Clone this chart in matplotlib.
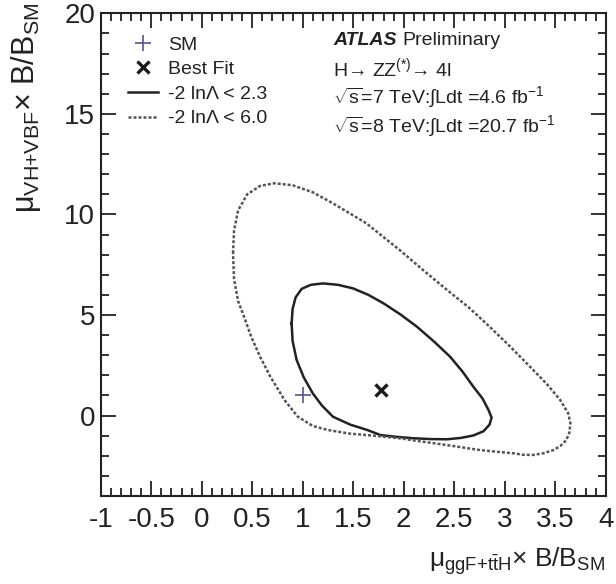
import matplotlib
matplotlib.use('Agg')
import matplotlib.pyplot as plt
from matplotlib.ticker import MultipleLocator, FormatStrFormatter

plt.rcParams['font.family'] = ['Liberation Sans', 'DejaVu Sans']
plt.rcParams['mathtext.fontset'] = 'custom'
plt.rcParams['mathtext.rm'] = 'Liberation Sans'
plt.rcParams['mathtext.it'] = 'Liberation Sans:italic'
plt.rcParams['mathtext.bf'] = 'Liberation Sans:bold'
plt.rcParams['axes.unicode_minus'] = False

# ---- data ----
sm_x = [1.0]
sm_y = [1.0]
best_x = [1.78]
best_y = [1.27]

c23_x = [0.89, 0.90, 0.93, 0.99, 1.08, 1.20, 1.35, 1.50, 1.65, 1.80, 1.97, 2.13, 2.30, 2.46,
         2.58, 2.69, 2.78, 2.84, 2.87, 2.85, 2.79, 2.69, 2.57, 2.43, 2.27, 2.10, 1.93, 1.77,
         1.64, 1.47, 1.30, 1.19, 1.10, 1.01, 0.94, 0.90, 0.89]
c23_y = [4.58, 5.30, 5.88, 6.30, 6.50, 6.57, 6.50, 6.32, 6.00, 5.58, 5.02, 4.42, 3.68, 2.92,
         2.20, 1.43, 0.85, 0.27, -0.10, -0.45, -0.78, -0.99, -1.11, -1.18, -1.17, -1.13, -1.06,
         -0.97, -0.72, -0.45, -0.06, 0.50, 1.10, 1.90, 2.76, 3.70, 4.58]

c60_x = [0.31, 0.32, 0.36, 0.45, 0.58, 0.72, 0.90, 1.10, 1.30, 1.63, 1.96, 2.20, 2.43, 2.65,
         2.85, 3.05, 3.25, 3.42, 3.55, 3.63, 3.65, 3.64, 3.61, 3.55, 3.48, 3.38, 3.28, 3.18,
         3.09, 2.92, 2.76, 2.60, 2.43, 2.19, 1.96, 1.70, 1.47, 1.25, 1.10, 0.95, 0.82, 0.68,
         0.58, 0.49, 0.42, 0.36, 0.32, 0.31]
c60_y = [8.07, 9.20, 10.20, 11.00, 11.42, 11.55, 11.45, 11.10, 10.55, 9.56, 8.23, 7.20, 6.24,
         5.35, 4.42, 3.45, 2.43, 1.55, 0.77, 0.10, -0.39, -0.85, -1.22, -1.52, -1.72, -1.88,
         -1.96, -1.95, -1.88, -1.80, -1.72, -1.60, -1.47, -1.30, -1.13, -1.00, -0.90, -0.72,
         -0.52, -0.05, 0.77, 1.93, 2.90, 3.92, 4.90, 5.70, 6.80, 8.07]

legend_labels = ['SM', 'Best Fit', '-2 lnΛ < 2.3', '-2 lnΛ < 6.0']
x_range = (-1, 4)
y_range = (-4, 20)

fig = plt.figure(figsize=(6.16, 5.84), dpi=100)
ax = fig.add_axes([0.1635, 0.1507, 0.8198, 0.8265])

h_sm, = ax.plot(sm_x, sm_y, ls='none', marker='+', ms=12, mew=1.2, color='#55559a',
                label=legend_labels[0])
h_bf, = ax.plot(best_x, best_y, ls='none', marker='x', ms=8, mew=2.4, color='#1a1a1a',
                label=legend_labels[1])
h_23, = ax.plot(c23_x, c23_y, color='#222222', lw=1.8, label=legend_labels[2])
h_60, = ax.plot(c60_x, c60_y, color='#555555', lw=1.8, ls=(0, (1.2, 0.8)),
                label=legend_labels[3])

ax.set_xlim(*x_range)
ax.set_ylim(*y_range)
ax.xaxis.set_major_locator(MultipleLocator(0.5))
ax.xaxis.set_minor_locator(MultipleLocator(0.1))
ax.yaxis.set_major_locator(MultipleLocator(5))
ax.yaxis.set_minor_locator(MultipleLocator(1))
ax.xaxis.set_major_formatter(FormatStrFormatter('%g'))
ax.yaxis.set_major_formatter(FormatStrFormatter('%g'))
ax.tick_params(which='both', direction='in', top=True, right=True, width=1.3,
               color='#222222', labelsize=20, labelcolor='#222222')
ax.tick_params(axis='x', pad=8)
ax.tick_params(axis='y', pad=4)
ax.tick_params(which='major', length=10.8)
ax.tick_params(which='minor', length=5.6)
for s in ax.spines.values():
    s.set_linewidth(1.5)
    s.set_color('#222222')

leg = ax.legend(handles=[h_sm, h_bf, h_23, h_60], loc='upper left',
                bbox_to_anchor=(0.055, 0.953), frameon=False, fontsize=14,
                handlelength=1.5, handletextpad=0.55, labelspacing=0.36,
                borderpad=0, borderaxespad=0)
for t in leg.get_texts():
    t.set_color('#222222')

fs = 14
t_atlas = ax.text(0.46, 0.943, 'ATLAS', transform=ax.transAxes, fontsize=fs,
                  fontweight='bold', style='italic', va='center', ha='left', color='#222222')
fig.canvas.draw()
bb = t_atlas.get_window_extent().transformed(ax.transAxes.inverted())
ax.text(bb.x1 + 0.012, 0.943, 'Preliminary', transform=ax.transAxes, fontsize=fs,
        va='center', ha='left', color='#222222')
ax.text(0.46, 0.886, 'H→ ZZ$^{(*)}$→ 4l', transform=ax.transAxes, fontsize=fs,
        va='center', ha='left', color='#222222')
ax.text(0.46, 0.826, r'$\sqrt{\mathrm{s}}$=7 TeV:∫Ldt =4.6 fb$^{-1}$', transform=ax.transAxes,
        fontsize=fs, va='center', ha='left', color='#222222')
ax.text(0.46, 0.766, r'$\sqrt{\mathrm{s}}$=8 TeV:∫Ldt =20.7 fb$^{-1}$', transform=ax.transAxes,
        fontsize=fs, va='center', ha='left', color='#222222')

fig.text(0.982, 0.03, r'μ$_{\mathrm{ggF{+}t\bar{t}H}}$× B/B$_{\mathrm{SM}}$', fontsize=19,
         ha='right', va='baseline', color='#222222')
fig.text(0.014, 0.995, r'μ$_{\mathrm{VH{+}VBF}}$× B/B$_{\mathrm{SM}}$', fontsize=22,
         rotation=90, ha='left', va='top', color='#222222')

fig.savefig('out.png', dpi=100)
